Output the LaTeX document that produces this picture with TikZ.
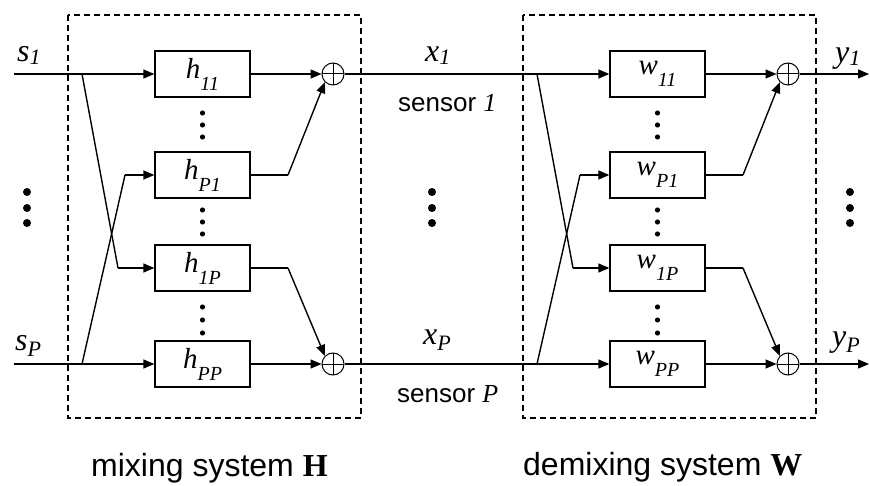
\documentclass[tikz,border=0pt]{standalone}
\usepackage{fontspec}
\setmainfont{Liberation Serif}
\setsansfont{Liberation Sans}
\usetikzlibrary{arrows.meta}
\newcommand\ilab[3]{{\fontsize{32}{32}\selectfont\itshape #1}\raisebox{-#3}{\fontsize{22}{22}\selectfont\itshape #2}}
\newcommand\blab[2]{{\fontsize{29}{29}\selectfont\itshape #1}\raisebox{-12pt}{\fontsize{20}{20}\selectfont\itshape #2}}
\tikzset{
  fbox/.style={draw, line width=1.3pt, minimum width=95pt, minimum height=46pt, inner sep=0pt},
  sumnode/.style={circle, draw, line width=1pt, minimum size=22pt, inner sep=0pt,
    path picture={\draw[line width=1pt] (path picture bounding box.north) -- (path picture bounding box.south)
      (path picture bounding box.west) -- (path picture bounding box.east);}},
  arr/.style={-{Triangle[length=11pt,width=9pt]}},
  dashbox/.style={draw, line width=1.2pt, dash pattern=on 6pt off 4pt},
  lab/.style={anchor=base west, inner sep=0pt},
}
\newcommand\mkSys[3]{%
\begin{scope}[xshift=#3pt]
  \draw[dashbox] (68,15) rectangle (361,418);
  \node[fbox] (a11#1) at (202.5,74) {\blab{#2}{11}};
  \node[fbox] (aP1#1) at (202.5,175) {\blab{#2}{P1}};
  \node[fbox] (a1P#1) at (202.5,268) {\blab{#2}{1P}};
  \node[fbox] (aPP#1) at (202.5,364) {\blab{#2}{PP}};
  \node[sumnode] (sa#1) at (333,74) {};
  \node[sumnode] (sb#1) at (333,364) {};
  \coordinate (ba#1) at (82,74);
  \coordinate (bb#1) at (82,364);
  \coordinate (ka#1) at (118,268);
  \coordinate (kb#1) at (125,175);
  \coordinate (oa#1) at (288,175);
  \coordinate (ob#1) at (288,268);
  \draw[line width=1.4pt] (ba#1) -- (ka#1);
  \draw[line width=1.4pt, arr] (ka#1) -- (a1P#1.west);
  \draw[line width=1.4pt] (bb#1) -- (kb#1);
  \draw[line width=1.4pt, arr] (kb#1) -- (aP1#1.west);
  \draw[line width=1.4pt, arr] (a11#1.east) -- (sa#1.west);
  \draw[line width=1.4pt, arr] (aPP#1.east) -- (sb#1.west);
  \draw[line width=1.4pt] (aP1#1.east) -- (oa#1);
  \draw[line width=1.4pt, arr] (oa#1) -- (sa#1.225);
  \draw[line width=1.4pt] (a1P#1.east) -- (ob#1);
  \draw[line width=1.4pt, arr] (ob#1) -- (sb#1.135);
  \foreach \yy in {113,125,137,210,222,234,307,320,333} \fill (202.5,\yy) circle (2.6pt);
\end{scope}}
\begin{document}
\begin{tikzpicture}[x=1pt, y=-1pt]
  \useasboundingbox (0,0) rectangle (870,486);
  \mkSys{H}{h}{0}
  \mkSys{W}{w}{455}
  \coordinate (in1) at (14,74);
  \coordinate (inP) at (14,364);
  \coordinate (out1) at (869,74);
  \coordinate (outP) at (869,364);
  \draw[line width=1.4pt, arr] (in1) -- (a11H.west);
  \draw[line width=1.4pt, arr] (inP) -- (aPPH.west);
  \draw[line width=1.4pt, arr] (saH.east) -- (a11W.west);
  \draw[line width=1.4pt, arr] (sbH.east) -- (aPPW.west);
  \draw[line width=1.4pt, arr] (saW.east) -- (out1);
  \draw[line width=1.4pt, arr] (sbW.east) -- (outP);
  \foreach \xx in {27,432,850} \foreach \yy in {192,208,223} \fill (\xx,\yy) circle (4pt);
  \node[lab] (s1) at (17,62) {\ilab{s}{1}{3pt}};
  \node[lab] (sP) at (15,350) {\ilab{s}{P}{6pt}};
  \node[lab] (x1) at (425,62) {\ilab{x}{1}{3pt}};
  \node[lab] (xP) at (423,344) {\ilab{x}{P}{6pt}};
  \node[lab] (y1) at (835,63) {\ilab{y}{1}{3pt}};
  \node[lab] (yP) at (832,346) {\ilab{y}{P}{6pt}};
  \node[lab] (sen1) at (398,112) {\fontsize{26}{26}\selectfont\sffamily sensor \rmfamily\itshape 1};
  \node[lab] (senP) at (397,402) {\fontsize{26}{26}\selectfont\sffamily sensor \rmfamily\itshape P};
  \node[lab] (mixH) at (91,476) {\fontsize{32}{32}\selectfont\sffamily mixing system \rmfamily\bfseries H};
  \node[lab] (demixW) at (523,475) {\fontsize{32}{32}\selectfont\sffamily demixing system \rmfamily\bfseries W};
\end{tikzpicture}
\end{document}
